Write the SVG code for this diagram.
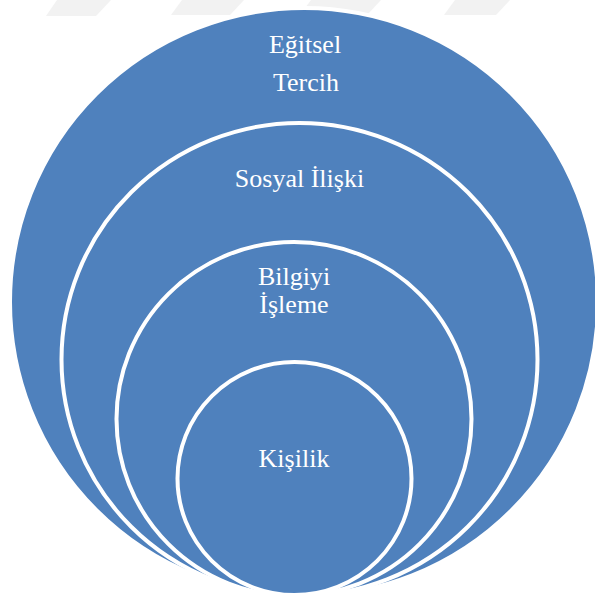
<svg xmlns="http://www.w3.org/2000/svg" width="595" height="598" viewBox="0 0 595 598">
<style>
  .ring { fill: #4F81BD; stroke: #FFFFFF; stroke-width: 4; }
  .lbl { font-family: "Liberation Serif", "Times New Roman", serif; font-size: 26px; fill: #FFFFFF; text-anchor: middle; }
  .wm { fill: #F2F2F2; }
</style>
<rect width="595" height="598" fill="#FFFFFF"/>
<g id="watermark">
  <polygon class="wm" points="57,0 111,0 96,16 46,16"/>
  <polygon class="wm" points="182,0 244,0 230,15 171,15"/>
  <polygon class="wm" points="311,0 381,0 367,15 300,15"/>
  <polygon class="wm" points="455,0 510,0 496,15 444,15"/>
</g>
<g id="egitsel-tercih">
  <ellipse class="ring" cx="304" cy="302" rx="294" ry="294"/>
  <text class="lbl" x="305" y="53">Eğitsel</text>
  <text class="lbl" x="306" y="91">Tercih</text>
</g>
<g id="sosyal-iliski">
  <ellipse class="ring" cx="299.5" cy="359.5" rx="238" ry="236.5"/>
  <text class="lbl" x="299.5" y="187">Sosyal İlişki</text>
</g>
<g id="bilgiyi-isleme">
  <ellipse class="ring" cx="294" cy="419" rx="177.5" ry="177"/>
  <text class="lbl" x="294" y="285">Bilgiyi</text>
  <text class="lbl" x="294" y="313">İşleme</text>
</g>
<g id="kisilik">
  <ellipse class="ring" cx="294.5" cy="478.5" rx="117" ry="116.5"/>
  <text class="lbl" x="294" y="467">Kişilik</text>
</g>
</svg>
